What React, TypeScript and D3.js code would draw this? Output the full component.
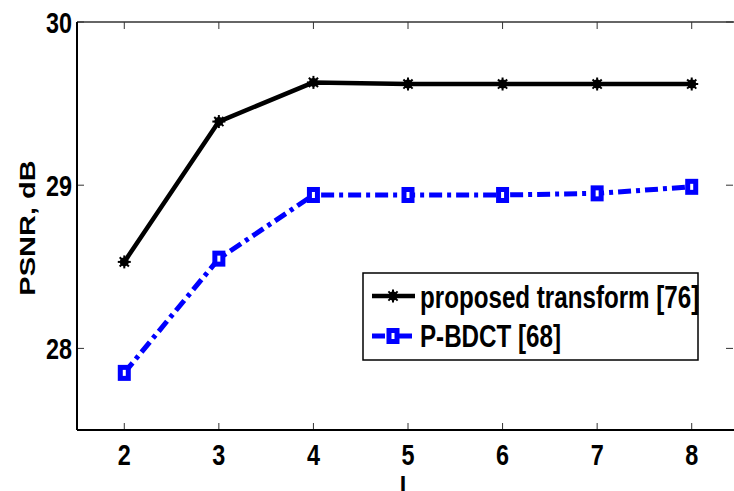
import React from "react";
import * as d3 from "d3";

const xValues = [2, 3, 4, 5, 6, 7, 8];
const proposed = [28.53, 29.39, 29.63, 29.62, 29.62, 29.62, 29.62];
const pbdct = [27.85, 28.55, 28.94, 28.94, 28.94, 28.95, 28.99];
const xTicks = [2, 3, 4, 5, 6, 7, 8];
const yTicks = [28, 29, 30];
const seriesNames = ["proposed transform [76]", "P-BDCT [68]"];
const xLabel = "L";
const yLabel = "PSNR, dB";

const W = 734;
const H = 491;
const left = 77;
const top = 22;
const bottom = 430;
const rightRange = 739;
const rightBox = 733;
const FONT = "'Liberation Sans', Arial, sans-serif";
const SX = 0.78;

function T({ x, y, anchor = "middle", size = 30, children }: any) {
  return (
    <text
      transform={`translate(${x},${y}) scale(${SX},1)`}
      textAnchor={anchor}
      fontFamily={FONT}
      fontWeight="bold"
      fontSize={size}
      fill="#000"
    >
      {children}
    </text>
  );
}

function Star({ cx, cy }: any) {
  const r = 6.5;
  const lines = [0, 45, 90, 135].map((a) => {
    const rad = (a * Math.PI) / 180;
    return (
      <line
        key={a}
        x1={cx - r * Math.cos(rad)}
        y1={cy - r * Math.sin(rad)}
        x2={cx + r * Math.cos(rad)}
        y2={cy + r * Math.sin(rad)}
        stroke="#000"
        strokeWidth={2}
      />
    );
  });
  return (
    <g>
      {lines}
      <circle cx={cx} cy={cy} r={4.5} fill="#000" />
    </g>
  );
}

function Sq({ cx, cy }: any) {
  return (
    <rect x={cx - 4} y={cy - 5.5} width={8} height={11} fill="#fff" stroke="#0000ff" strokeWidth={5} />
  );
}

export default function App() {
  const x = d3.scaleLinear().domain([1.5, 8.5]).range([left, rightRange]);
  const y = d3.scaleLinear().domain([27.5, 30]).range([bottom, top]);
  const line = d3
    .line<number>()
    .x((_, i) => x(xValues[i]))
    .y((d) => y(d));

  const lgX = 363, lgY = 273, lgW = 335, lgH = 87;

  return (
    <svg
      width={W}
      height={H}
      style={{ position: "absolute", left: 0, top: 0, background: "#fff" }}
    >
      <rect x={0} y={0} width={W} height={H} fill="#fff" />
      {/* ticks */}
      {xTicks.map((t) => (
        <g key={"xt" + t}>
          <line x1={x(t)} x2={x(t)} y1={bottom} y2={bottom - 7} stroke="#333" strokeWidth={1} />
          <line x1={x(t)} x2={x(t)} y1={top} y2={top + 7} stroke="#333" strokeWidth={1} />
          <T x={x(t)} y={465}>{t}</T>
        </g>
      ))}
      {yTicks.map((t) => (
        <g key={"yt" + t}>
          <line x1={left} x2={left + 7} y1={y(t)} y2={y(t)} stroke="#333" strokeWidth={1} />
          <line x1={rightBox} x2={rightBox - 7} y1={y(t)} y2={y(t)} stroke="#333" strokeWidth={1} />
          <T x={72} y={y(t) + 11} anchor="end">{t}</T>
        </g>
      ))}
      {/* box */}
      <line x1={left} x2={rightBox + 2} y1={top} y2={top} stroke="#333" strokeWidth={1.5} />
      <line x1={left} x2={left} y1={top} y2={bottom} stroke="#000" strokeWidth={2} />
      <line x1={left} x2={W} y1={bottom} y2={bottom} stroke="#000" strokeWidth={2} />

      {/* series */}
      <path d={line(proposed) || ""} fill="none" stroke="#000" strokeWidth={4.5} strokeLinejoin="round" />
      {proposed.map((v, i) => (
        <Star key={"p" + i} cx={x(xValues[i])} cy={y(v)} />
      ))}
      <path
        d={line(pbdct) || ""}
        fill="none"
        stroke="#0000ff"
        strokeWidth={5}
        strokeDasharray="13,5,4,5"
      />
      {pbdct.map((v, i) => (
        <Sq key={"b" + i} cx={x(xValues[i])} cy={y(v)} />
      ))}

      {/* legend */}
      <rect x={lgX} y={lgY} width={lgW} height={lgH} fill="#fff" stroke="#000" strokeWidth={1.5} />
      <line x1={372} x2={415} y1={296} y2={296} stroke="#000" strokeWidth={4.5} />
      <Star cx={393} cy={296} />
      <T x={420} y={308} anchor="start" size={31}>{seriesNames[0]}</T>
      <line x1={372} x2={415} y1={336} y2={336} stroke="#0000ff" strokeWidth={5} strokeDasharray="13,5,4,5" />
      <Sq cx={393} cy={336} />
      <T x={420} y={347} anchor="start" size={31}>{seriesNames[1]}</T>

      {/* axis labels */}
      <T x={407} y={496}>{xLabel}</T>
      <text
        transform={`translate(35,228) rotate(-90) scale(1,${SX})`}
        textAnchor="middle"
        fontFamily={FONT}
        fontWeight="bold"
        fontSize={29}
        fill="#000"
      >
        {yLabel}
      </text>
    </svg>
  );
}
